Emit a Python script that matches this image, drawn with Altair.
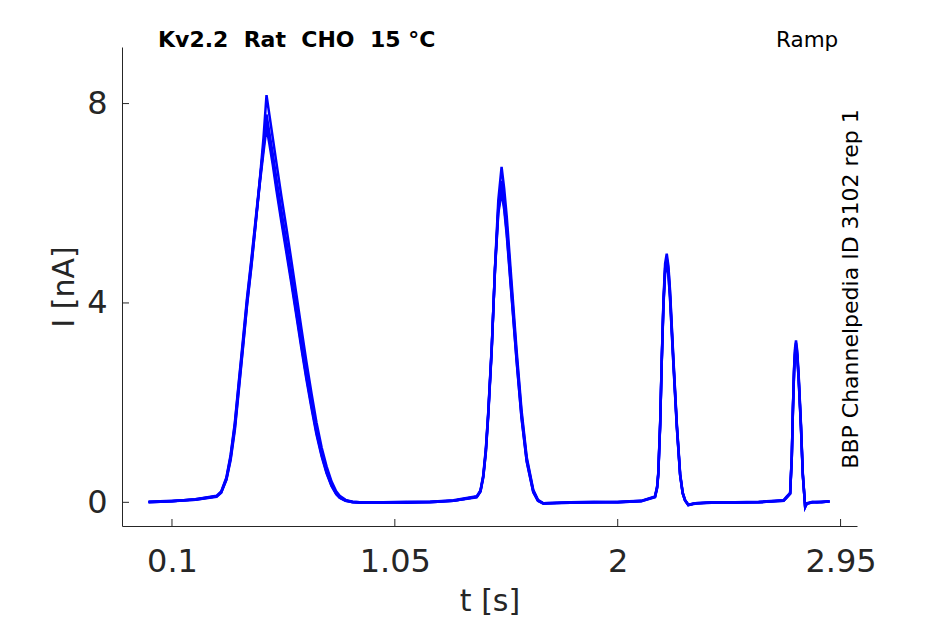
import altair as alt
import pandas as pd

# ---------------- data ----------------
TITLE = "Kv2.2\u00a0\u00a0Rat\u00a0\u00a0CHO\u00a0\u00a015\u00a0°C"
PROTOCOL = "Ramp"
SOURCE = "BBP Channelpedia ID 3102 rep 1"
X_TITLE = "t [s]"
Y_TITLE = "I [nA]"
X_TICKS = [0.1, 1.05, 2, 2.95]
Y_TICKS = [0, 4, 8]
TRACE_NAMES = ["sweep 1", "sweep 2", "sweep 3", "sweep 4"]

T = [0.0, 0.1, 0.2, 0.29, 0.31, 0.332, 0.35, 0.368, 0.385, 0.403,
     0.42, 0.439, 0.456, 0.474, 0.49, 0.503, 0.515, 0.53, 0.545, 0.566,
     0.588, 0.61, 0.631, 0.652, 0.673, 0.695, 0.716, 0.738, 0.759, 0.78,
     0.80, 0.815, 0.84, 0.87, 0.90,
     1.0, 1.1, 1.2, 1.3,
     1.399, 1.415, 1.427, 1.438, 1.448, 1.463, 1.477, 1.491, 1.505, 1.516,
     1.527, 1.548, 1.569, 1.59, 1.612, 1.64, 1.66, 1.683,
     1.8, 1.9, 2.0, 2.1,
     2.159, 2.168, 2.173, 2.181, 2.188, 2.195, 2.202, 2.209, 2.216, 2.223,
     2.237, 2.252, 2.266, 2.277, 2.287, 2.301, 2.33,
     2.4, 2.5, 2.6,
     2.707, 2.721, 2.735, 2.742, 2.747, 2.752, 2.756, 2.76, 2.765, 2.771,
     2.781, 2.789, 2.799, 2.806, 2.83, 2.849, 2.87, 2.903]

I1 = [0.0, 0.02, 0.06, 0.12, 0.2, 0.45, 0.85, 1.45, 2.25, 3.12,
      3.95, 4.75, 5.55, 6.45, 7.3, 8.17, 7.78, 7.3, 6.82, 6.15,
      5.5, 4.82, 4.15, 3.48, 2.82, 2.18, 1.6, 1.1, 0.72, 0.42,
      0.22, 0.13, 0.05, 0.01, 0.0,
      0.0, 0.0, 0.01, 0.03,
      0.11, 0.22, 0.51, 1.0, 1.72, 3.05, 4.72, 6.06, 6.73, 6.3,
      5.73, 4.39, 3.05, 1.85, 0.91, 0.25, 0.05, -0.02,
      -0.01, 0.0, 0.0, 0.03,
      0.11, 0.3, 0.58, 1.58, 2.92, 4.06, 4.79, 4.99, 4.75, 4.26,
      2.92, 1.58, 0.58, 0.2, 0.05, -0.05, -0.02,
      -0.01, 0.0, 0.0,
      0.04, 0.11, 0.18, 0.91, 1.92, 2.72, 3.1, 3.25, 3.05, 2.59,
      1.58, 0.58, -0.09, -0.02, 0.0, 0.0, 0.01, 0.02]

I2 = [0.01, 0.03, 0.05, 0.11, 0.19, 0.46, 0.88, 1.5, 2.3, 3.15,
      3.98, 4.78, 5.55, 6.4, 7.15, 7.78, 7.42, 6.98, 6.5, 5.86,
      5.22, 4.56, 3.9, 3.25, 2.62, 2.01, 1.46, 0.99, 0.63, 0.36,
      0.19, 0.1, 0.04, 0.0, -0.01,
      0.0, 0.01, 0.0, 0.03,
      0.1, 0.21, 0.5, 1.02, 1.75, 3.08, 4.7, 5.92, 6.45, 6.08,
      5.55, 4.25, 2.95, 1.78, 0.87, 0.23, 0.04, -0.02,
      0.0, 0.01, 0.0, 0.02,
      0.1, 0.28, 0.55, 1.55, 2.88, 4.0, 4.7, 4.9, 4.68, 4.2,
      2.88, 1.55, 0.56, 0.19, 0.04, -0.05, -0.03,
      0.0, -0.01, 0.0,
      0.03, 0.1, 0.17, 0.88, 1.88, 2.68, 3.05, 3.2, 3.0, 2.55,
      1.55, 0.56, -0.08, -0.03, 0.0, 0.01, 0.0, 0.02]

I3 = [0.0, 0.02, 0.06, 0.13, 0.22, 0.5, 0.95, 1.6, 2.42, 3.28,
      4.1, 4.9, 5.65, 6.45, 7.1, 7.65, 7.3, 6.85, 6.36, 5.72,
      5.08, 4.43, 3.78, 3.14, 2.52, 1.93, 1.4, 0.95, 0.6, 0.34,
      0.17, 0.09, 0.03, 0.01, 0.0,
      -0.01, 0.0, 0.01, 0.04,
      0.12, 0.24, 0.55, 1.08, 1.8, 3.12, 4.68, 5.85, 6.3, 5.95,
      5.42, 4.14, 2.86, 1.71, 0.83, 0.21, 0.03, -0.03,
      0.0, 0.0, 0.01, 0.03,
      0.12, 0.32, 0.6, 1.6, 2.9, 3.98, 4.65, 4.82, 4.6, 4.12,
      2.82, 1.52, 0.55, 0.18, 0.04, -0.06, -0.02,
      0.0, 0.0, 0.01,
      0.04, 0.12, 0.19, 0.93, 1.9, 2.66, 3.0, 3.14, 2.95, 2.5,
      1.52, 0.55, -0.1, -0.03, 0.0, 0.0, 0.01, 0.01]

I4 = [0.01, 0.02, 0.05, 0.12, 0.21, 0.48, 0.92, 1.56, 2.38, 3.22,
      4.05, 4.85, 5.6, 6.38, 7.02, 7.52, 7.2, 6.76, 6.27, 5.64,
      5.0, 4.36, 3.72, 3.08, 2.47, 1.88, 1.36, 0.92, 0.58, 0.33,
      0.16, 0.09, 0.03, 0.0, 0.0,
      0.0, -0.01, 0.0, 0.03,
      0.11, 0.23, 0.53, 1.05, 1.78, 3.1, 4.66, 5.8, 6.22, 5.88,
      5.36, 4.1, 2.83, 1.69, 0.82, 0.2, 0.03, -0.02,
      -0.01, 0.0, 0.0, 0.02,
      0.11, 0.3, 0.57, 1.57, 2.86, 3.94, 4.6, 4.78, 4.56, 4.08,
      2.8, 1.5, 0.54, 0.18, 0.04, -0.05, -0.02,
      -0.01, 0.0, 0.0,
      0.03, 0.1, 0.17, 0.9, 1.86, 2.62, 2.96, 3.1, 2.92, 2.48,
      1.5, 0.54, -0.09, -0.02, 0.01, 0.0, 0.0, 0.02]

# ---------------- build tables ----------------
rows = []
for name, vals in zip(TRACE_NAMES, [I1, I2, I3, I4]):
    n = min(len(T), len(vals))
    for k in range(n):
        rows.append({"trace": name, "t": T[k], "I": vals[k]})
df = pd.DataFrame(rows)
xt = pd.DataFrame({"t": X_TICKS})
yt = pd.DataFrame({"I": Y_TICKS})

W, H = 735, 479
FONT = "DejaVu Sans"
AX = "#262626"
BLUE = "#0000ff"

x_scale = alt.Scale(domain=[-0.113, 3.02], nice=False, zero=False)
y_scale = alt.Scale(domain=[-0.475, 9.135], nice=False, zero=False)

x_axis = alt.Axis(values=X_TICKS, format=".3~g", title=X_TITLE, grid=False,
                  ticks=False, tickSize=0, domainColor=AX, domainWidth=1,
                  labelFont=FONT, labelFontSize=32, labelColor=AX,
                  labelPadding=20, labelFlush=False, labelOverlap=False,
                  titleFont=FONT, titleFontSize=30, titleFontWeight="normal",
                  titleColor=AX, titleY=84, titleBaseline="alphabetic")
y_axis = alt.Axis(values=Y_TICKS, format=".3~g", title=Y_TITLE, grid=False,
                  ticks=False, tickSize=0, domainColor=AX, domainWidth=1,
                  labelFont=FONT, labelFontSize=32, labelColor=AX,
                  labelPadding=15, labelFlush=False, labelOverlap=False,
                  titleFont=FONT, titleFontSize=30, titleFontWeight="normal",
                  titleColor=AX, titleX=-49, titleY=H / 2, titleAngle=270,
                  titleAlign="center", titleBaseline="alphabetic")

lines = alt.Chart(df).mark_line(color=BLUE, strokeWidth=2.5, clip=True).encode(
    x=alt.X("t:Q", scale=x_scale, axis=x_axis, title=X_TITLE),
    y=alt.Y("I:Q", scale=y_scale, axis=y_axis, title=Y_TITLE),
    detail="trace:N",
    order="t:Q",
)

xticks = alt.Chart(xt).mark_rule(color=AX, strokeWidth=1).encode(
    x=alt.X("t:Q", scale=x_scale, axis=x_axis, title=X_TITLE),
    y=alt.value(H), y2=alt.value(H - 7),
)
yticks = alt.Chart(yt).mark_rule(color=AX, strokeWidth=1).encode(
    y=alt.Y("I:Q", scale=y_scale, axis=y_axis, title=Y_TITLE),
    x=alt.value(0), x2=alt.value(7),
)

title = alt.Chart(pd.DataFrame({"s": [TITLE]})).mark_text(
    font=FONT, fontSize=22, fontWeight="bold", color="#000000",
    align="left", baseline="alphabetic").encode(
    text="s:N", x=alt.value(36), y=alt.value(0))

proto = alt.Chart(pd.DataFrame({"s": [PROTOCOL]})).mark_text(
    font=FONT, fontSize=21.5, color="#000000",
    align="left", baseline="alphabetic").encode(
    text="s:N", x=alt.value(654), y=alt.value(0))

source = alt.Chart(pd.DataFrame({"s": [SOURCE]})).mark_text(
    font=FONT, fontSize=22, color="#000000", angle=270,
    align="center", baseline="alphabetic").encode(
    text="s:N", x=alt.value(736), y=alt.value(242))

chart = alt.layer(lines, xticks, yticks, title, proto, source).properties(
    width=W, height=H,
    autosize=alt.AutoSizeParams(type="none"),
    padding={"left": 114, "top": 39, "right": 70, "bottom": 92},
    background="white",
).configure_view(stroke=None)

chart.save("out.html", embed_options={"renderer": "svg", "actions": False})
